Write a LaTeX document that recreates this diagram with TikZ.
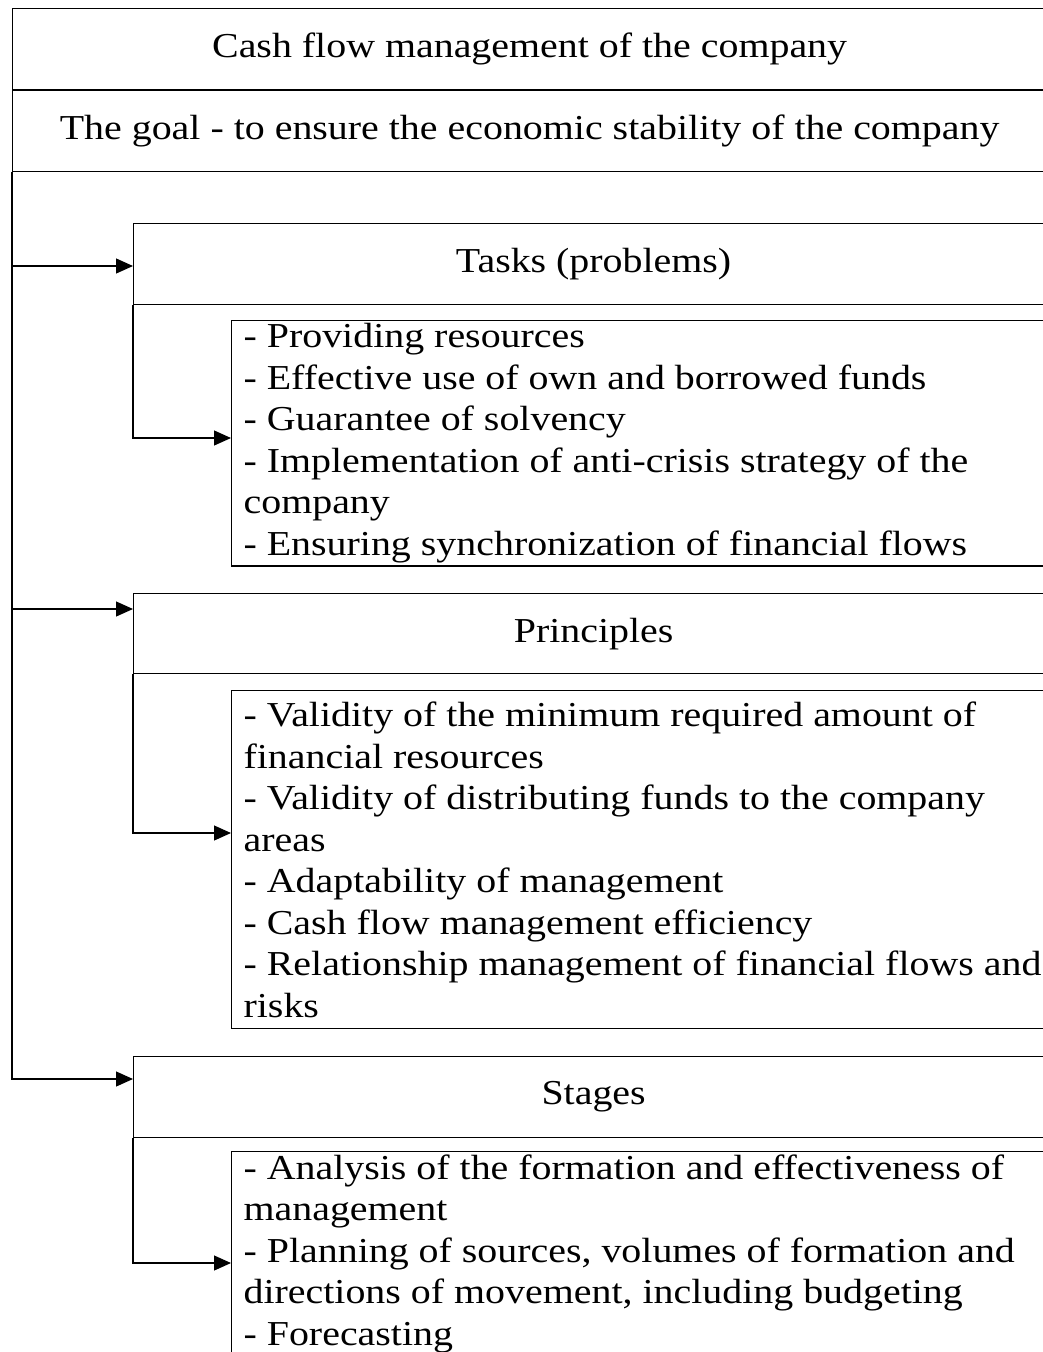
\documentclass[tikz,border=0pt]{standalone}
\usepackage{fontspec}
\setmainfont{Liberation Serif}[FakeStretch=1.14]
\usetikzlibrary{arrows.meta, positioning}

\begin{document}
\begin{tikzpicture}[x=1pt, y=-1pt, >={Triangle[length=17pt, width=15pt]}, line width=1.2pt,
        font=\fontsize{35}{41.5}\selectfont,
        headbox/.style={draw, anchor=north west, minimum height=81pt, inner sep=0pt},
        listbox/.style={draw, anchor=north west, align=flush left, text width=810pt, inner xsep=12pt, inner ysep=3pt}]
        \useasboundingbox (0,0) rectangle (1043,1352);
        \clip (0,0) rectangle (1043,1352);
        \node[headbox, minimum width=1034pt] (title) at (12,8) {Cash flow management of the company};
        \node[headbox, minimum width=1034pt, below=0pt of title] (goal) {The goal - to ensure the economic stability of the company};
        \node[headbox, minimum width=920pt] (tasks) at (133,223) {Tasks (problems)};
        \node[listbox, minimum height=244pt] (tasklist) at (231,320)
        {- Providing resources\\ - Effective use of own and borrowed funds\\ - Guarantee of solvency\\ - Implementation of anti-crisis strategy of the\\ company\\ - Ensuring synchronization of financial flows};
        \node[headbox, minimum width=920pt, minimum height=80pt] (prin) at (133,593) {Principles};
        \node[listbox, minimum height=338pt] (prinlist) at (231,690)
        {- Validity of the minimum required amount of\\ financial resources\\ - Validity of distributing funds to the company\\ areas\\ - Adaptability of management\\ - Cash flow management efficiency\\ - Relationship management of financial flows and\\ risks};
        \node[headbox, minimum width=920pt] (stages) at (133,1056) {Stages};
        \node[listbox] (stagelist) at (231,1151)
        {- Analysis of the formation and effectiveness of\\ management\\ - Planning of sources, volumes of formation and\\ directions of movement, including budgeting\\ - Forecasting};
        \draw[->] (goal.south west) |- ([yshift=-43pt]tasks.north west);
        \draw[->] (goal.south west) |- ([yshift=-16pt]prin.north west);
        \draw[->] (goal.south west) |- ([yshift=-23pt]stages.north west);
        \draw[->] (tasks.south west) |- ([yshift=-118pt]tasklist.north west);
        \draw[->] (prin.south west) |- ([yshift=-143pt]prinlist.north west);
        \draw[->] (stages.south west) |- ([yshift=-112pt]stagelist.north west);
    \end{tikzpicture}
\end{document}
